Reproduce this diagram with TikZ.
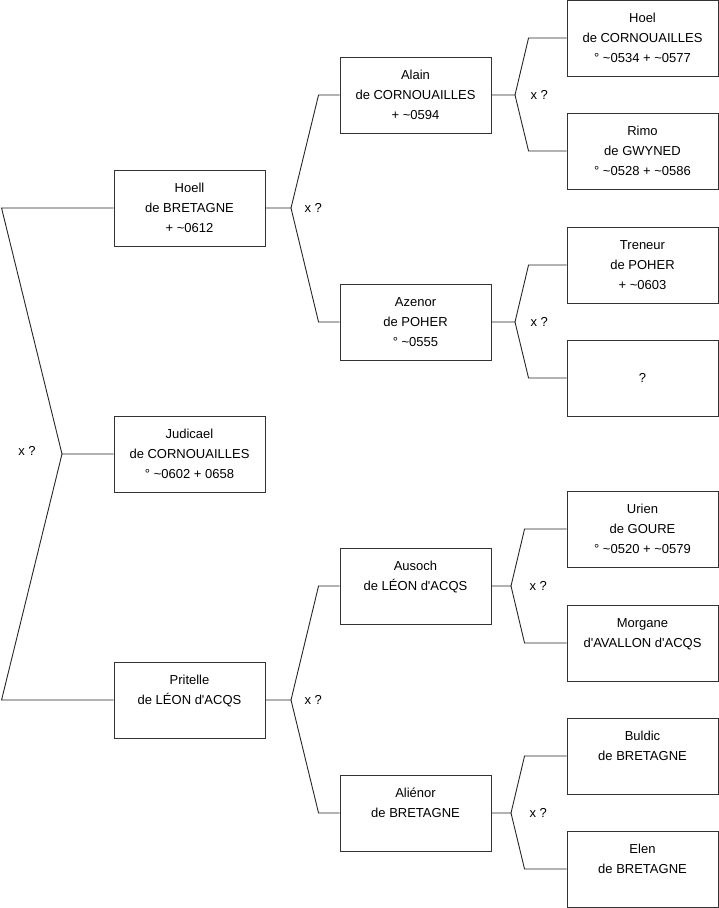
\documentclass[tikz,border=0pt]{standalone}
\usepackage{fontspec}
\setmainfont{Liberation Sans}
\usepackage{tikz}
\usetikzlibrary{positioning,calc}
\tikzset{link/.style={draw=black!85,line width=.9pt},marr/.style={font=\fontsize{13}{15}\selectfont}}
\newcommand{\ap}{\textquotesingle}
\begin{document}
\begin{tikzpicture}[x=1pt,y=-1pt,
person/.style={draw=black!80,line width=.9pt,minimum width=151pt,minimum height=76pt,inner sep=0pt,align=center,font=\fontsize{13}{20}\selectfont}]
\useasboundingbox (0,0) rectangle (719,908);
% generation 1
\node[person] (hoell) at (189.5,208) {Hoell\\de BRETAGNE\\+ \textasciitilde0612};
\node[person] (judicael) at (189.5,454) {Judicael\\de CORNOUAILLES\\° \textasciitilde0602 + 0658};
\node[person] (pritelle) at (189.5,700) {Pritelle\\de LÉON d\ap ACQS\\\mbox{}};
% generation 2
\node[person] (alain) at (415.5,95) {Alain\\de CORNOUAILLES\\+ \textasciitilde0594};
\node[person] (azenor) at (415.5,322) {Azenor\\de POHER\\° \textasciitilde0555};
\node[person] (ausoch) at (415.5,586) {Ausoch\\de LÉON d\ap ACQS\\\mbox{}};
\node[person] (alienor) at (415.5,813) {Aliénor\\de BRETAGNE\\\mbox{}};
% generation 3
\node[person] (hoel) at (642.5,38) {Hoel\\de CORNOUAILLES\\° \textasciitilde0534 + \textasciitilde0577};
\node[person] (rimo) at (642.5,151) {Rimo\\de GWYNED\\° \textasciitilde0528 + \textasciitilde0586};
\node[person] (treneur) at (642.5,265) {Treneur\\de POHER\\+ \textasciitilde0603};
\node[person] (inconnu) at (642.5,378) {?};
\node[person] (urien) at (642.5,529) {Urien\\de GOURE\\° \textasciitilde0520 + \textasciitilde0579};
\node[person] (morgane) at (642.5,643) {Morgane\\d\ap AVALLON d\ap ACQS\\\mbox{}};
\node[person] (buldic) at (642.5,756) {Buldic\\de BRETAGNE\\\mbox{}};
\node[person] (elen) at (642.5,869) {Elen\\de BRETAGNE\\\mbox{}};
% junctions
\coordinate (jroot) at (62,454);
\coordinate (jhoell) at (291,208);\coordinate (jpritelle) at (291,700);
\coordinate (jalain) at (515,95);\coordinate (jazenor) at (515,322);
\coordinate (jausoch) at (511,586);\coordinate (jalienor) at (511,813);
% forks
\draw[link] (judicael.west)--(jroot)--([xshift=-112pt]hoell.west)--(hoell.west);
\draw[link] (jroot)--([xshift=-112pt]pritelle.west)--(pritelle.west);
\foreach \c/\f/\m/\s in {hoell/alain/azenor/21,pritelle/ausoch/alienor/21,alain/hoel/rimo/38,azenor/treneur/inconnu/38,ausoch/urien/morgane/42,alienor/buldic/elen/42}{
\draw[link] (\c.east)--(j\c)--([xshift=-\s pt]\f.west)--(\f.west);
\draw[link] (j\c)--([xshift=-\s pt]\m.west)--(\m.west);}
% marriage labels
\node[marr] (mroot) at (27,451) {x ?};
\node[marr,right=10pt of jhoell] (mhoell) {x ?};\node[marr,right=10pt of jpritelle] (mpritelle) {x ?};
\node[marr,right=12pt of jalain] (malain) {x ?};\node[marr,right=12pt of jazenor] (mazenor) {x ?};
\node[marr,right=15pt of jausoch] (mausoch) {x ?};\node[marr,right=15pt of jalienor] (malienor) {x ?};
\end{tikzpicture}
\end{document}
